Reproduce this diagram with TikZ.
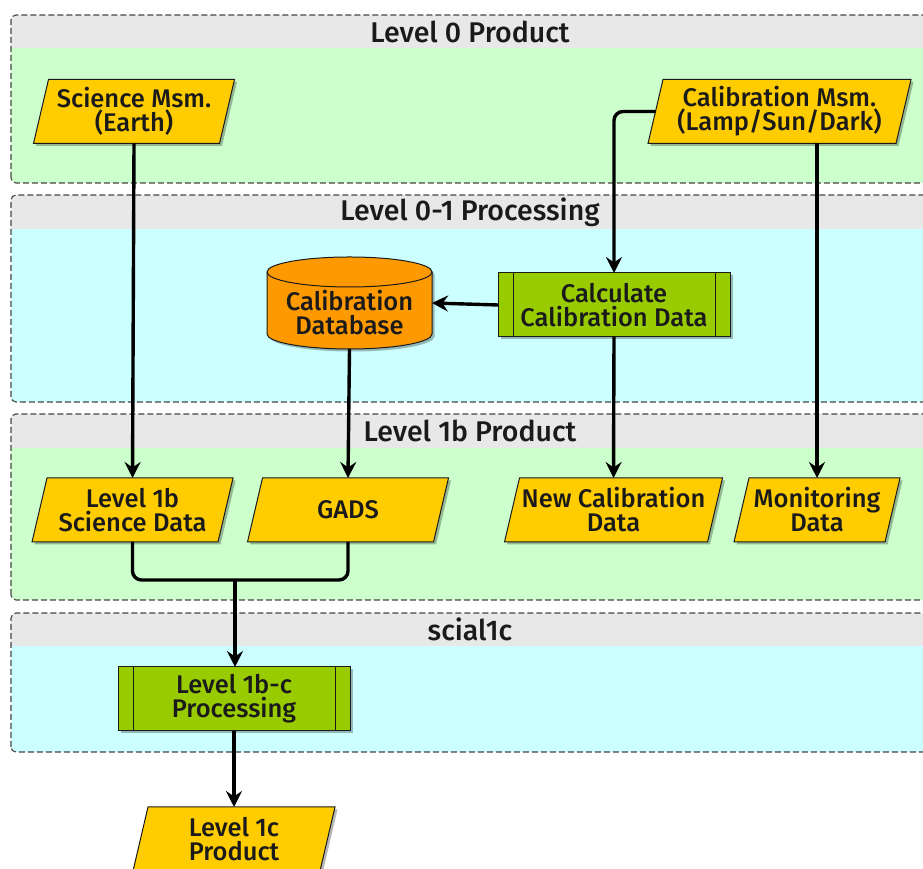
\documentclass[tikz,border=0pt]{standalone}
\usepackage{fontspec}
\setmainfont{Fira Sans}[BoldFont={Fira Sans Medium}]
\usetikzlibrary{shadows, arrows.meta, calc}

\definecolor{prodbg}{HTML}{CCFFCC}
\definecolor{procbg}{HTML}{CCFFFF}
\definecolor{headbg}{HTML}{E8E8E8}
\definecolor{datafill}{HTML}{FFCC00}
\definecolor{procfill}{HTML}{99CC00}
\definecolor{dbfill}{HTML}{FF9900}
\definecolor{framegray}{HTML}{444444}
\definecolor{inkcol}{HTML}{1A1A1A}

\tikzset{
  softshadow/.style={general shadow={fill=black, opacity=0.28,
      shadow xshift=2.5pt, shadow yshift=-2.5pt}},
  label font/.style={font=\bfseries\fontsize{25.5}{24}\selectfont, text=inkcol},
  lanetitle/.style={font=\bfseries\fontsize{28.5}{30}\selectfont, text=inkcol,
      inner sep=0pt},
  laneborder/.style={draw=framegray, line width=1.1pt, dash pattern=on 6pt off 3pt,
      rounded corners=5pt},
  datanode/.style={label font, rectangle, align=center, minimum height=64pt,
      inner sep=0pt, outer sep=0pt},
  datashape/.style={fill=datafill, draw=inkcol, line width=1pt, softshadow},
  procnode/.style={label font, rectangle, align=center, minimum height=64pt,
      minimum width=232pt, inner sep=0pt, outer sep=0pt, fill=procfill,
      draw=inkcol, line width=1pt, softshadow},
  procline/.style={draw=inkcol, line width=1pt},
  dbnode/.style={rectangle, minimum width=165pt, minimum height=92pt,
      inner sep=0pt, outer sep=0pt},
  dbshape/.style={fill=dbfill, draw=inkcol, line width=1pt, softshadow},
  conn/.style={draw=black, line width=3.4pt, rounded corners=9pt},
  arr/.style={conn, -{Stealth[length=16pt, width=16pt, inset=5.5pt]}},
}

% a swim lane: top, header bottom, bottom, body colour, title, title name
\newcommand\swimlane[6]{%
  \begin{scope}
    \clip[rounded corners=5pt] (11,#3) rectangle (929,#1);
    \fill[#4] (11,#3) rectangle (929,#1);
    \fill[headbg] (11,#2) rectangle (929,#1);
  \end{scope}
  \draw[laneborder] (11,#3) rectangle (929,#1);
  \node[lanetitle] (#6) at (470,{(#1+#2)/2}) {#5};
}

% data node drawn as a parallelogram: name, position, mid width, text
\newcommand\datablock[4]{%
  \pgfmathsetmacro\hw{#3/2}%
  \begin{scope}[shift={(#2)}]
    \path[datashape] (-\hw+7.5,32) -- (\hw+7.5,32) -- (\hw-7.5,-32)
      -- (-\hw-7.5,-32) -- cycle;
  \end{scope}
  \node[datanode, minimum width=#3pt] (#1) at (#2) {#4};
}

% predefined process with side bars: name, position, text
\newcommand\procblock[3]{%
  \node[procnode] (#1) at (#2) {#3};
  \draw[procline] ($(#1.north west)+(15,0)$) -- ($(#1.south west)+(15,0)$);
  \draw[procline] ($(#1.north east)+(-15,0)$) -- ($(#1.south east)+(-15,0)$);
}

% database drum: name, position, text
\newcommand\dbblock[3]{%
  \begin{scope}[shift={(#2)}]
    \path[dbshape] (-82.5,31) -- (-82.5,-31)
      arc[start angle=180, end angle=360, x radius=82.5pt, y radius=15pt]
      -- (82.5,31)
      arc[start angle=0, end angle=180, x radius=82.5pt, y radius=15pt] -- cycle;
    \draw[draw=inkcol, line width=1pt] (-82.5,31)
      arc[start angle=180, end angle=360, x radius=82.5pt, y radius=15pt];
  \end{scope}
  \node[dbnode] (#1) at (#2) {};
  \node[label font, align=center, inner sep=0pt] (#1-text)
    at ($(#1.center)+(0,-10)$) {#3};
}

\begin{document}
\begin{tikzpicture}[x=1pt, y=1pt]
\useasboundingbox (0,0) rectangle (923,869);

% lanes
\swimlane{854}{821}{686}{prodbg}{Level 0 Product}{t0}
\swimlane{674}{640}{467}{procbg}{Level 0-1 Processing}{t01}
\swimlane{455}{421}{269}{prodbg}{Level 1b Product}{t1b}
\swimlane{256}{223}{117}{procbg}{scial1c}{tsc}

% inputs
\datablock{sci}{134,757.5}{186}{Science Msm.\\(Earth)}
\datablock{cal}{779.5,757.5}{248}{Calibration Msm.\\(Lamp/Sun/Dark)}

% level 0-1 processing
\procblock{calc}{614,564}{Calculate\\Calibration Data}
\dbblock{db}{349.5,566}{Calibration\\Database}

% level 1b products
\datablock{l1b}{132.5,359}{186}{Level 1b\\Science Data}
\datablock{gads}{348,359}{186}{GADS}
\datablock{newcal}{613.5,359}{203}{New Calibration\\Data}
\datablock{mon}{817,359}{151}{Monitoring\\Data}

% level 1b-c processing and output
\procblock{proc}{234,170}{Level 1b-c\\Processing}
\datablock{l1c}{234,30}{187}{Level 1c\\Product}

% connectors
\draw[arr] (sci.south) -- (l1b.north);
\draw[arr] (cal.west) -| (calc.north);
\draw[arr] (cal.south -| mon.north) -- (mon.north);
\draw[arr] (calc.west) -- (db.east);
\draw[arr] (calc.south) -- (newcal.north);
\draw[arr] (db.south) -- (gads.north);
\coordinate (merge) at (235,289);
\draw[conn] (l1b.south) |- (merge);
\draw[conn] (gads.south) |- (merge);
\draw[arr] (merge) -- (merge |- proc.north);
\draw[arr] (proc.south) -- (l1c.north);
\end{tikzpicture}
\end{document}
